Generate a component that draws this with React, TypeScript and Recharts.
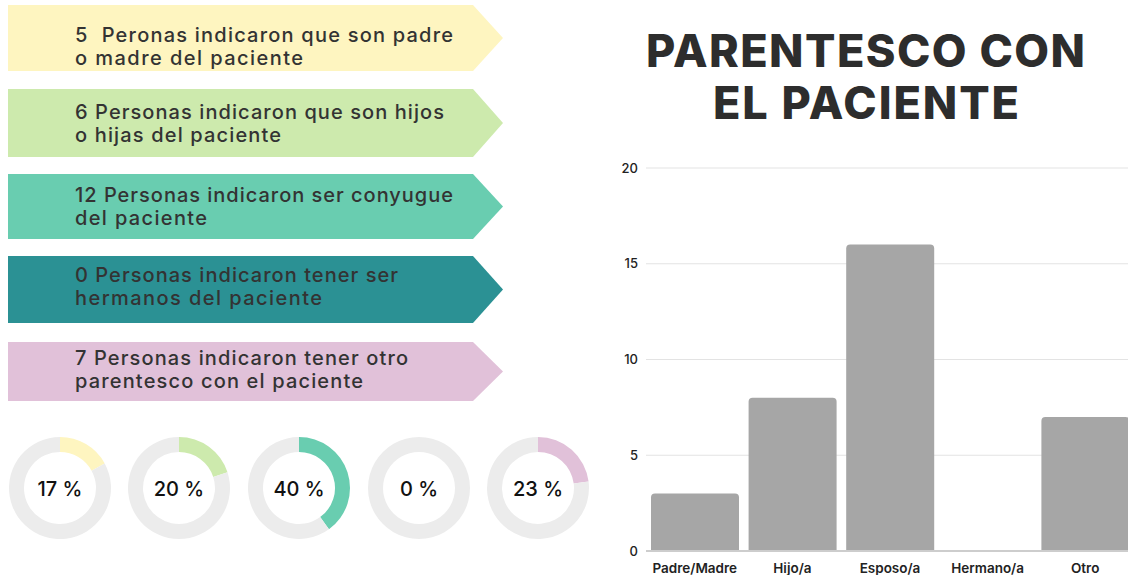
import React from 'react';
import { BarChart, Bar, XAxis, YAxis, CartesianGrid, PieChart, Pie, Cell } from 'recharts';

// ---- data ----
const categories = ['Padre/Madre', 'Hijo/a', 'Esposo/a', 'Hermano/a', 'Otro'];
const counts = [3, 8, 16, 0, 7];
const yTicks = [0, 5, 10, 15, 20];

const bannerLines: string[][] = [
  ['5\u00a0 Peronas indicaron que son padre', 'o madre del paciente'],
  ['6 Personas indicaron que son hijos', 'o hijas del paciente'],
  ['12 Personas indicaron ser conyugue', 'del paciente'],
  ['0 Personas indicaron tener ser', 'hermanos del paciente'],
  ['7 Personas indicaron tener otro', 'parentesco con el paciente'],
];
const percentages = [17, 20, 40, 0, 23];
const titleLines = ['PARENTESCO CON', 'EL PACIENTE'];

// ---- styles / layout ----
const palette = ['#fef5c0', '#cdeaad', '#69cdb0', '#2b9194', '#e1c1d9'];
const ringGrey = '#ececec';
const bannerTops = [5, 89, 174, 256, 342];
const bannerBottoms = [71, 157, 239, 323, 401];
const bannerBaselines = [[42, 65], [119, 142], [202, 225], [282, 305], [365, 388]];
const bannerWidths = [[378, 228], [369, 206], [378, 132], [323, 247], [333, 288]];
const donutCx = [60, 179, 299, 419, 538];
const font = 'Inter, "Noto Sans", sans-serif';

const barData = categories.map((c, i) => ({ name: c, value: counts[i] }));

export default function App() {
  return (
    <div
      style={{
        position: 'absolute',
        left: 0,
        top: 0,
        width: 1128,
        height: 575,
        overflow: 'hidden',
        background: '#ffffff',
        fontFamily: font,
      }}
    >
      {/* banners */}
      <svg width={520} height={410} style={{ position: 'absolute', left: 0, top: 0 }}>
        {bannerLines.map((lines, i) => {
          const t = bannerTops[i];
          const b = bannerBottoms[i];
          const m = (t + b) / 2;
          return (
            <g key={i}>
              <polygon points={`8,${t} 473,${t} 503,${m} 473,${b} 8,${b}`} fill={palette[i]} />
              {lines.map((ln, j) => (
                <text
                  key={j}
                  x={75}
                  y={bannerBaselines[i][j]}
                  fontSize={20}
                  fontWeight={500}
                  fill="#333333"
                  textLength={bannerWidths[i][j]}
                  lengthAdjust="spacing"
                  style={{ fontFamily: font }}
                >
                  {ln}
                </text>
              ))}
            </g>
          );
        })}
      </svg>

      {/* donuts */}
      <div style={{ position: 'absolute', left: 0, top: 433 }}>
        <PieChart width={600} height={110} margin={{ top: 0, right: 0, bottom: 0, left: 0 }}>
          {percentages.map((p, i) => (
            <Pie
              key={i}
              data={[{ name: 'v', value: p }, { name: 'r', value: 100 - p }]}
              dataKey="value"
              cx={donutCx[i]}
              cy={55}
              innerRadius={36}
              outerRadius={51}
              startAngle={90}
              endAngle={-270}
              stroke="none"
              isAnimationActive={false}
            >
              <Cell fill={palette[i]} />
              <Cell fill={ringGrey} />
            </Pie>
          ))}
        </PieChart>
      </div>
      <svg width={600} height={110} style={{ position: 'absolute', left: 0, top: 433 }}>
        {percentages.map((p, i) => (
          <text
            key={i}
            x={donutCx[i]}
            y={63}
            textAnchor="middle"
            fontSize={20}
            fontWeight={500}
            fill="#111111"
            style={{ fontFamily: font }}
          >
            {`${p} %`}
          </text>
        ))}
      </svg>

      {/* title */}
      <svg width={528} height={140} style={{ position: 'absolute', left: 600, top: 0 }}>
        <text
          x={46}
          y={67}
          fontSize={45}
          fontWeight={800}
          fill="#2d2d2d"
          textLength={439}
          lengthAdjust="spacing"
          style={{ fontFamily: font }}
        >
          {titleLines[0]}
        </text>
        <text
          x={113}
          y={119}
          fontSize={45}
          fontWeight={800}
          fill="#2d2d2d"
          textLength={306}
          lengthAdjust="spacing"
          style={{ fontFamily: font }}
        >
          {titleLines[1]}
        </text>
      </svg>

      {/* bar chart */}
      <div style={{ position: 'absolute', left: 596, top: 150 }}>
        <BarChart
          width={538}
          height={425}
          data={barData}
          margin={{ top: 18, right: 0, bottom: 0, left: 0 }}
          barSize={88}
        >
          <CartesianGrid vertical={false} stroke="#e3e3e3" />
          <XAxis
            dataKey="name"
            height={24}
            tickLine={false}
            axisLine={{ stroke: '#cdcdcd', strokeWidth: 2 }}
            tickMargin={6}
            interval={0}
            tick={{ fontSize: 13.5, fontWeight: 600, fill: '#222222', fontFamily: font }}
          />
          <YAxis
            width={50}
            domain={[0, 20]}
            ticks={yTicks}
            axisLine={false}
            tickLine={false}
            tick={{ fontSize: 13, fontWeight: 500, fill: '#222222', fontFamily: font }}
          />
          <Bar dataKey="value" fill="#a6a6a6" radius={[4, 4, 0, 0]} isAnimationActive={false} />
        </BarChart>
      </div>
    </div>
  );
}
